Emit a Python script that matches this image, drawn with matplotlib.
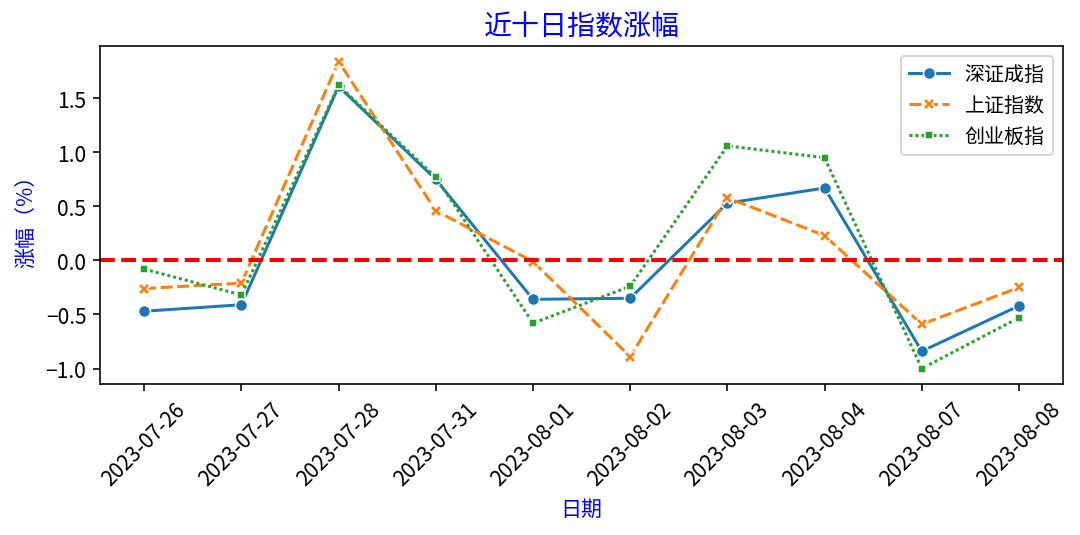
import matplotlib
matplotlib.use('Agg')
import matplotlib.pyplot as plt
import seaborn as sns
import pandas as pd

# 近十日三大指数涨幅（%）
dates = ['2023-07-26', '2023-07-27', '2023-07-28', '2023-07-31', '2023-08-01',
         '2023-08-02', '2023-08-03', '2023-08-04', '2023-08-07', '2023-08-08']
szcz = [-0.47, -0.41, 1.61, 0.75, -0.36, -0.35, 0.53, 0.67, -0.84, -0.42]
szzs = [-0.26, -0.21, 1.84, 0.46, -0.01, -0.89, 0.58, 0.23, -0.59, -0.25]
cybz = [-0.08, -0.32, 1.62, 0.77, -0.58, -0.24, 1.06, 0.95, -1.00, -0.53]

plt.rcParams['font.family'] = ['Noto Sans CJK SC', 'DejaVu Sans']
plt.rcParams['axes.unicode_minus'] = True

df = pd.DataFrame({'深证成指': szcz, '上证指数': szzs, '创业板指': cybz}, index=dates)

fig, ax = plt.subplots(figsize=(7.5, 3.722), dpi=144)
plt.subplots_adjust(left=0.093, right=0.984, top=0.912, bottom=0.282)

sns.lineplot(data=df, markers=True, ax=ax)
ax.axhline(0, color='red', linestyle='--', linewidth=2)

ax.set_title('近十日指数涨幅', color='blue', fontsize=14)
ax.set_xlabel('日期', color='blue', fontsize=10.5)
ax.set_ylabel('涨幅（%）', color='blue', fontsize=10.5)
ax.tick_params(axis='x', labelrotation=45, labelsize=10.5)
ax.tick_params(axis='y', labelsize=10.5)
ax.legend(loc='upper right', fontsize=10)

plt.savefig('out.png', dpi=144)
